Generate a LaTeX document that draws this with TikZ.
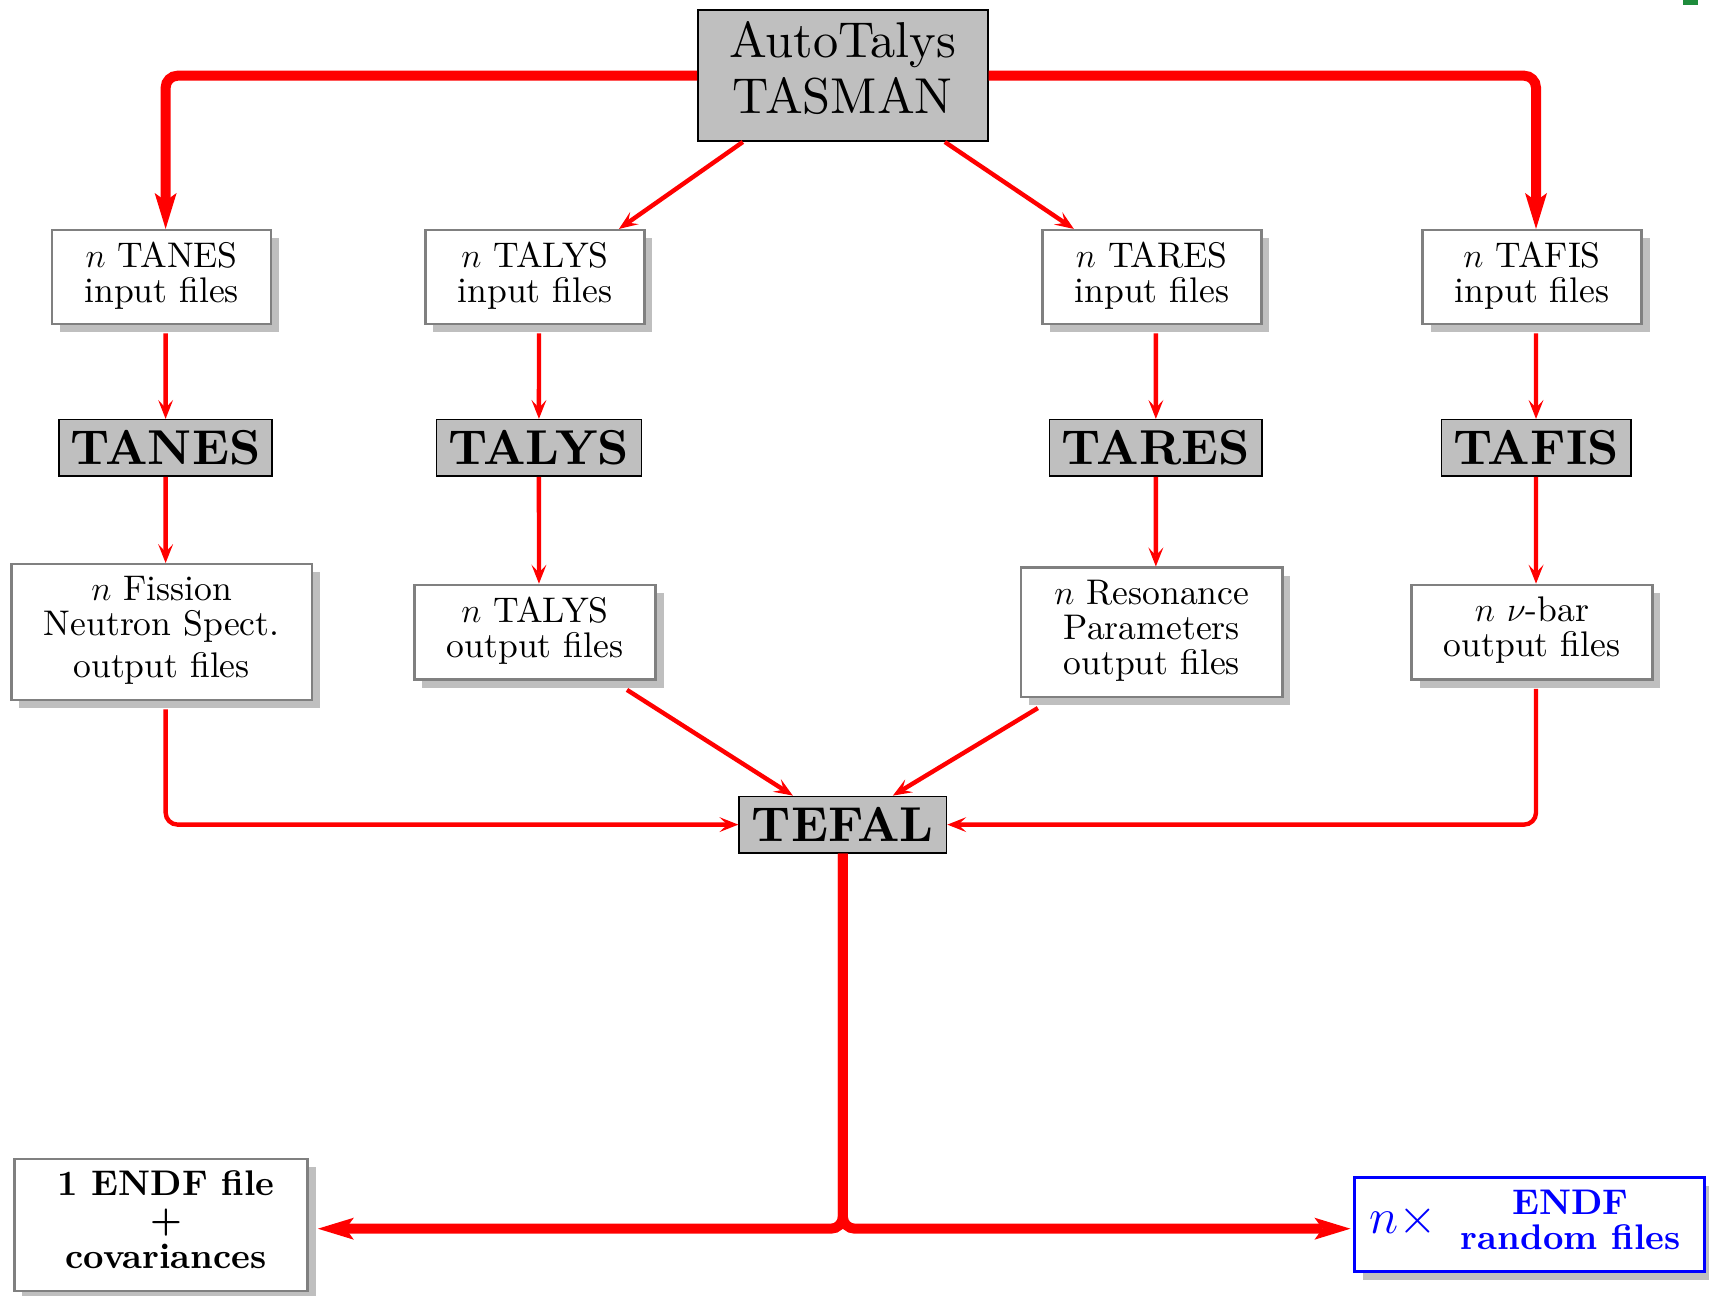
\documentclass[tikz,border=0pt]{standalone}
\usepackage{amsmath,amssymb}
\usepackage{fontspec}
\setmainfont{lmroman10-regular.otf}[BoldFont=lmroman10-bold.otf, ItalicFont=lmroman10-italic.otf, BoldItalicFont=lmroman10-bolditalic.otf]
\usepackage{xcolor}
\usepackage{tikz}
\usetikzlibrary{arrows.meta, calc, shadows}

\definecolor{markgreen}{RGB}{30,140,60}

\begin{document}
\begin{tikzpicture}[
    head_node/.style={
        rectangle,
        draw=black,
        fill=lightgray,
        line width=0.8pt,
        inner sep=2pt,
        align=center,
        execute at end node=\strut,
        font=\fontsize{25.2}{28}\selectfont
    },
    file_node/.style={
        rectangle,
        draw=gray,
        fill=white,
        line width=1.2pt,
        inner sep=2pt,
        align=center,
        execute at end node=\strut,
        drop shadow={shadow xshift=4pt, shadow yshift=-4pt, fill=lightgray, opacity=1},
        font=\fontsize{17.8}{17.5}\selectfont
    },
    prog_node/.style={
        rectangle,
        draw=black,
        fill=lightgray,
        line width=0.8pt,
        inner sep=2pt,
        minimum height=28.2pt,
        font=\fontsize{24.5}{28}\selectfont\bfseries
    },
    endf_node/.style={
        file_node,
        font=\fontsize{17.8}{18.3}\selectfont\bfseries
    },
    rand_node/.style={
        rectangle,
        draw=blue,
        fill=white,
        text=blue,
        line width=1.5pt,
        inner sep=2pt,
        drop shadow={shadow xshift=4pt, shadow yshift=-4pt, fill=lightgray, opacity=1},
        font=\fontsize{17.8}{17}\selectfont\bfseries
    },
    flow/.style={draw=red, line width=2.2pt, rounded corners=6pt,
        -{Stealth[length=9.5pt, width=7.5pt, inset=4pt, line width=0pt]}},
    main_flow/.style={draw=red, line width=5pt, rounded corners=6pt,
        -{Stealth[length=18pt, width=11pt, inset=4pt, line width=0pt]}}
]

    \useasboundingbox (0,0) rectangle (30.03,-22.76);
    \fill[markgreen] (29.58,0) rectangle (29.84,-0.09);

    % Driver
    \node[head_node, minimum width=145pt, minimum height=65.5pt] (top) at (14.81, -1.33)
        {AutoTalys\\TASMAN};

    % Input files
    \node[file_node, minimum width=109.5pt, minimum height=47pt] (tanesin) at (2.84, -4.87) {$n$ TANES\\input files};
    \node[file_node, minimum width=109.5pt, minimum height=47pt] (talysin) at (9.40, -4.87) {$n$ TALYS\\input files};
    \node[file_node, minimum width=109.5pt, minimum height=47pt] (taresin) at (20.24, -4.87) {$n$ TARES\\input files};
    \node[file_node, minimum width=109.5pt, minimum height=47pt] (tafisin) at (26.92, -4.87) {$n$ TAFIS\\input files};

    % Codes
    \node[prog_node, minimum width=106.5pt] (tanes) at (2.91, -7.87) {TANES};
    \node[prog_node, minimum width=102.4pt] (talys) at (9.47, -7.87) {TALYS};
    \node[prog_node, minimum width=106.2pt] (tares) at (20.31, -7.87) {TARES};
    \node[prog_node, minimum width=94.7pt] (tafis) at (26.99, -7.87) {TAFIS};

    % Output files
    \node[file_node, minimum width=150.3pt, minimum height=68pt] (fissout) at (2.84, -11.11)
        {$n$ Fission\\Neutron Spect.\\[3.5pt]output files};
    \node[file_node, minimum width=120.6pt, minimum height=47.4pt] (talysout) at (9.40, -11.11)
        {$n$ TALYS\\output files};
    \node[file_node, minimum width=130.6pt, minimum height=64.6pt] (resout) at (20.24, -11.11)
        {$n$ Resonance\\Parameters\\output files};
    \node[file_node, minimum width=120.4pt, minimum height=47.4pt] (nubarout) at (26.92, -11.11)
        {$n$ $\nu$-bar\\output files};

    \node[prog_node, minimum width=103.7pt] (tefal) at (14.81, -14.49) {TEFAL};

    % Results
    \node[endf_node, minimum width=146.6pt, minimum height=66pt] (endf) at (2.83, -21.52)
        {\hspace*{5pt}1 ENDF file\\\hspace*{5pt}+\\\hspace*{5pt}covariances};
    \node[rand_node, minimum width=174.8pt, minimum height=46.8pt] (ranfiles) at (26.88, -21.52)
        {{\fontsize{24.88}{26}\selectfont$n\times$}\hspace{12pt}\begin{tabular}{@{}c@{}}ENDF\\random files\end{tabular}\hspace*{5pt}};

    % Arrows
    \draw[main_flow] (top.west) -| ([xshift=2pt]tanesin.north);
    \draw[main_flow] (top.east) -| ([xshift=2pt]tafisin.north);
    \draw[flow] ([xshift=-50pt]top.south) -- ([xshift=42pt]talysin.north);
    \draw[flow] ([xshift=51pt]top.south) -- ([xshift=-39pt]taresin.north);

    \foreach \f/\c in {tanesin/tanes, talysin/talys, taresin/tares, tafisin/tafis}
        \draw[flow] ([xshift=2pt,yshift=-4pt]\f.south) -- (\c.north);
    \foreach \c/\o in {tanes/fissout, talys/talysout, tares/resout, tafis/nubarout}
        \draw[flow] (\c.south) -- ([xshift=2pt]\o.north);

    \draw[flow] ([xshift=2pt,yshift=-4pt]fissout.south) |- (tefal.west);
    \draw[flow] ([xshift=46pt,yshift=-4.5pt]talysout.south) -- ([xshift=-25pt]tefal.north);
    \draw[flow] ([xshift=-57pt,yshift=-5pt]resout.south) -- ([xshift=25pt]tefal.north);
    \draw[flow] ([xshift=2pt,yshift=-4pt]nubarout.south) |- (tefal.east);

    \draw[main_flow] (tefal.south) |- ([shift={(4.5pt,-2pt)}]endf.east);
    \draw[main_flow] (tefal.south) |- ([shift={(-1.5pt,-2pt)}]ranfiles.west);

\end{tikzpicture}
\end{document}
